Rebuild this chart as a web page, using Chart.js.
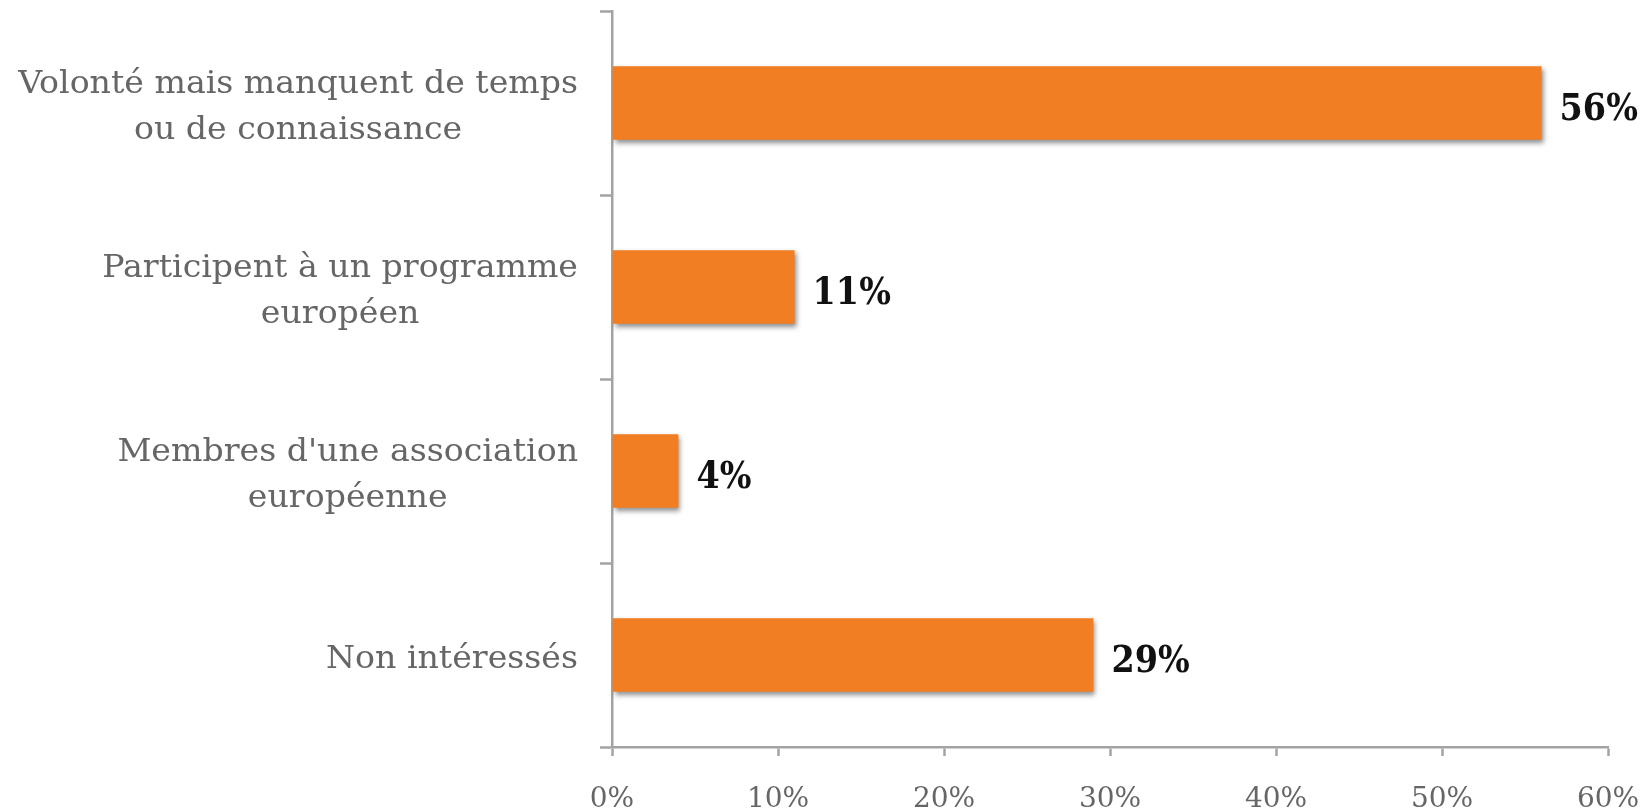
<!DOCTYPE html>
<html>
<head>
<meta charset="utf-8">
<script src="https://cdn.jsdelivr.net/npm/chart.js@4/dist/chart.umd.min.js"></script>
<style>
  html, body { margin: 0; padding: 0; background: #ffffff; }
  #wrap { width: 1650px; height: 811px; }
</style>
</head>
<body>
<div id="wrap"><canvas id="c" width="1650" height="811"></canvas></div>
<script>
// ---- data ----
const categories = [
  ["Volonté mais manquent de temps", "ou de connaissance"],
  ["Participent à un programme", "européen"],
  ["Membres d'une association", "européenne"],
  ["Non intéressés"]
];
const values = [56, 11, 4, 29];
const tickValues = [0, 10, 20, 30, 40, 50, 60];

const GRAY_TEXT = '#666666';
const AXIS = '#a3a3a3';
const BAR = '#F17E22';

const shadowPlugin = {
  id: 'barShadow',
  beforeDatasetsDraw(chart) {
    const ctx = chart.ctx;
    ctx.save();
    ctx.shadowColor = 'rgba(0,0,0,0.45)';
    ctx.shadowBlur = 5;
    ctx.shadowOffsetX = 2;
    ctx.shadowOffsetY = 3;
  },
  afterDatasetsDraw(chart) {
    chart.ctx.restore();
  }
};

const labelsPlugin = {
  id: 'customLabels',
  afterDraw(chart) {
    const ctx = chart.ctx;
    const yScale = chart.scales.y;
    const meta = chart.getDatasetMeta(0);
    // category labels: block right-aligned, lines centered
    ctx.save();
    ctx.fillStyle = GRAY_TEXT;
    ctx.font = '31px "DejaVu Serif"';
    ctx.textAlign = 'center';
    ctx.textBaseline = 'alphabetic';
    const sx = 1.07;
    const rightEdge = 578;
    const lineH = 46;
    categories.forEach((lines, i) => {
      const cy = yScale.getPixelForTick(i);
      const maxW = Math.max(...lines.map(l => ctx.measureText(l).width)) * sx;
      const cx = rightEdge - maxW / 2;
      const n = lines.length;
      const firstBase = cy + 13 - (n - 1) * lineH / 2;
      lines.forEach((l, j) => {
        ctx.save();
        ctx.translate(cx, firstBase + j * lineH);
        ctx.scale(sx, 1);
        ctx.fillText(l, 0, 0);
        ctx.restore();
      });
    });
    ctx.restore();

    // value labels
    ctx.save();
    ctx.fillStyle = '#111111';
    ctx.font = 'bold 38px "DejaVu Serif"';
    ctx.textAlign = 'left';
    ctx.textBaseline = 'alphabetic';
    meta.data.forEach((bar, i) => {
      ctx.save();
      ctx.translate(bar.x + 18, bar.y + 17);
      ctx.scale(0.88, 1);
      ctx.fillText(values[i] + '%', 0, 0);
      ctx.restore();
    });
    ctx.restore();
  }
};

new Chart(document.getElementById('c'), {
  type: 'bar',
  data: {
    labels: categories,
    datasets: [{
      data: values,
      backgroundColor: BAR,
      borderWidth: 0,
      categoryPercentage: 0.8,
      barPercentage: 0.5
    }]
  },
  options: {
    indexAxis: 'y',
    responsive: false,
    animation: false,
    devicePixelRatio: 1,
    layout: { padding: { top: 11, right: 42, left: 0, bottom: 0 } },
    plugins: {
      legend: { display: false },
      tooltip: { enabled: false }
    },
    scales: {
      x: {
        type: 'linear',
        min: 0,
        max: 60,
        afterBuildTicks(scale) {
          scale.ticks = tickValues.map(v => ({ value: v }));
        },
        afterFit(scale) {
          scale.height = 64;
          scale.paddingLeft = 0;
          scale.paddingRight = 0;
        },
        border: { display: true, color: AXIS, width: 2.5 },
        grid: {
          drawOnChartArea: false,
          drawTicks: true,
          tickLength: 9,
          tickWidth: 2.5,
          tickColor: AXIS,
          color: AXIS
        },
        ticks: {
          color: GRAY_TEXT,
          font: { family: '"DejaVu Serif"', size: 28 },
          padding: 27,
          maxRotation: 0,
          callback: v => v + '%'
        }
      },
      y: {
        type: 'category',
        offset: true,
        afterFit(scale) {
          scale.width = 612;
          scale.paddingTop = 0;
          scale.paddingBottom = 0;
        },
        border: { display: true, color: AXIS, width: 2.5 },
        grid: {
          offset: true,
          drawOnChartArea: false,
          drawTicks: true,
          tickLength: 12,
          tickWidth: 2.5,
          tickColor: AXIS,
          color: AXIS
        },
        ticks: { display: false }
      }
    }
  },
  plugins: [shadowPlugin, labelsPlugin]
});
</script>
</body>
</html>
